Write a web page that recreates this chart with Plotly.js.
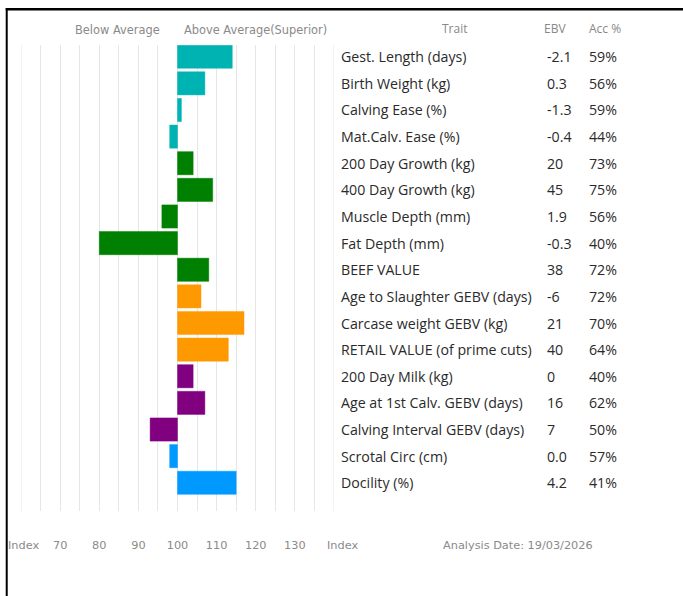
<!DOCTYPE html>
<html>
<head>
<meta charset="utf-8">
<script src="https://cdn.plot.ly/plotly-3.0.1.min.js"></script>
<style>
html,body{margin:0;padding:0;background:#fff;}
#chart{width:683px;height:596px;}
</style>
</head>
<body>
<div id="chart"></div>
<script>
const traits = ["Gest. Length (days)","Birth Weight (kg)","Calving Ease (%)","Mat.Calv. Ease (%)","200 Day Growth (kg)","400 Day Growth (kg)","Muscle Depth (mm)","Fat Depth (mm)","BEEF VALUE","Age to Slaughter GEBV (days)","Carcase weight GEBV (kg)","RETAIL VALUE (of prime cuts)","200 Day Milk (kg)","Age at 1st Calv. GEBV (days)","Calving Interval GEBV (days)","Scrotal Circ (cm)","Docility (%)"];
const indexValues = [114,107,101,98,104,109,96,80,108,106,117,113,104,107,93,98,115];
const ebv = ["-2.1","0.3","-1.3","-0.4","20","45","1.9","-0.3","38","-6","21","40","0","16","7","0.0","4.2"];
const acc = ["59%","56%","59%","44%","73%","75%","56%","40%","72%","72%","70%","64%","40%","62%","50%","57%","41%"];
const groups = ["t","t","t","t","g","g","g","g","g","o","o","o","p","p","p","b","b"];
const groupColors = {t:"#00b3b3", g:"#008000", o:"#ff9900", p:"#800080", b:"#0099ff"};
const groupLines = {t:"rgba(0,179,179,0.45)", g:"rgba(0,128,0,0.45)", o:"rgba(255,153,0,0.45)", p:"rgba(128,0,128,0.45)", b:"rgba(0,153,255,0.45)"};
const tickVals = [70,80,90,100,110,120,130];
const axisRange = [60, 140];
const baseIndex = 100;

const W = 683, H = 596;
const L = 21, R = 334.5, T = 45, B = 511;
const px = x => (x - L) / (R - L);
const py = y => (B - y) / (B - T);

const trace = {
  type: "bar",
  orientation: "h",
  y: traits,
  x: indexValues.map(v => v - baseIndex),
  base: baseIndex,
  marker: {
    color: groups.map(g => groupColors[g]),
    line: {color: groups.map(g => groupLines[g]), width: 1}
  },
  hoverinfo: "none"
};

const annotations = [];
const tableFont = {family: "Open Sans", size: 14.2, color: "#2a2a2a"};
traits.forEach((t, i) => {
  annotations.push({xref:"paper", yref:"y", x: px(339.5), y: t, text: t, showarrow:false, xanchor:"left", yanchor:"middle", font: tableFont});
  annotations.push({xref:"paper", yref:"y", x: px(545.5), y: t, text: ebv[i], showarrow:false, xanchor:"left", yanchor:"middle", font: tableFont});
  annotations.push({xref:"paper", yref:"y", x: px(587.5), y: t, text: acc[i], showarrow:false, xanchor:"left", yanchor:"middle", font: tableFont});
});
const headFont = {family: "Open Sans", size: 12, color: "#888"};
annotations.push({xref:"paper", yref:"paper", x: px(456), y: py(28), text:"Trait", showarrow:false, xanchor:"center", yanchor:"middle", font: headFont});
annotations.push({xref:"paper", yref:"paper", x: px(542.5), y: py(28), text:"EBV", showarrow:false, xanchor:"left", yanchor:"middle", font: headFont});
annotations.push({xref:"paper", yref:"paper", x: px(587.5), y: py(28), text:"Acc %", showarrow:false, xanchor:"left", yanchor:"middle", font: headFont});
const topFont = {family: "DejaVu Sans", size: 11.4, color: "#8a8a8a"};
const grayFont = {family: "DejaVu Sans", size: 11.3, color: "#8a8a8a"};
annotations.push({xref:"paper", yref:"paper", x: px(162), y: py(30), text:"Below Average", showarrow:false, xanchor:"right", yanchor:"middle", font: topFont});
annotations.push({xref:"paper", yref:"paper", x: px(182), y: py(30), text:"Above Average(Superior)", showarrow:false, xanchor:"left", yanchor:"middle", font: topFont});
annotations.push({xref:"paper", yref:"paper", x: px(6), y: py(545), text:"Index", showarrow:false, xanchor:"left", yanchor:"middle", font: grayFont});
annotations.push({xref:"paper", yref:"paper", x: px(325), y: py(545), text:"Index", showarrow:false, xanchor:"left", yanchor:"middle", font: grayFont});
annotations.push({xref:"paper", yref:"paper", x: px(442), y: py(545), text:"Analysis Date: 19/03/2026", showarrow:false, xanchor:"left", yanchor:"middle", font: grayFont});

const shapes = [
  {type:"line", xref:"x", yref:"paper", x0: axisRange[0], x1: axisRange[0], y0: 0, y1: 1, line:{color:"#e6e6e6", width:1}, layer:"below"},
  {type:"line", xref:"x", yref:"paper", x0: axisRange[1], x1: axisRange[1], y0: 0, y1: 1, line:{color:"#e6e6e6", width:1}, layer:"below"},
  {type:"line", xref:"paper", yref:"paper", x0: px(6.7), x1: px(6.7), y0: py(8), y1: py(600), line:{color:"#000", width:2}},
  {type:"line", xref:"paper", yref:"paper", x0: px(5.7), x1: px(690), y0: py(9.2), y1: py(9.2), line:{color:"#000", width:2.5}}
];

const layout = {
  width: W, height: H,
  margin: {l: L, r: W - R, t: T, b: H - B, pad: 0},
  paper_bgcolor: "#fff", plot_bgcolor: "#fff",
  showlegend: false,
  bargap: 0.13,
  xaxis: {
    range: axisRange,
    tickvals: tickVals,
    showgrid: true, gridcolor: "#e6e6e6", gridwidth: 1,
    minor: {dtick: 5, tick0: 60, showgrid: true, gridcolor: "#e6e6e6", gridwidth: 1},
    zeroline: false, showline: false, ticks: "",
    ticklabelstandoff: 26,
    tickfont: grayFont,
    fixedrange: true
  },
  yaxis: {
    type: "category",
    range: [17.06, -0.44],
    showticklabels: false, showgrid: false, zeroline: false, showline: false, ticks: "",
    fixedrange: true
  },
  annotations: annotations,
  shapes: shapes
};

Plotly.newPlot("chart", [trace], layout, {displayModeBar: false, staticPlot: true});
</script>
</body>
</html>
